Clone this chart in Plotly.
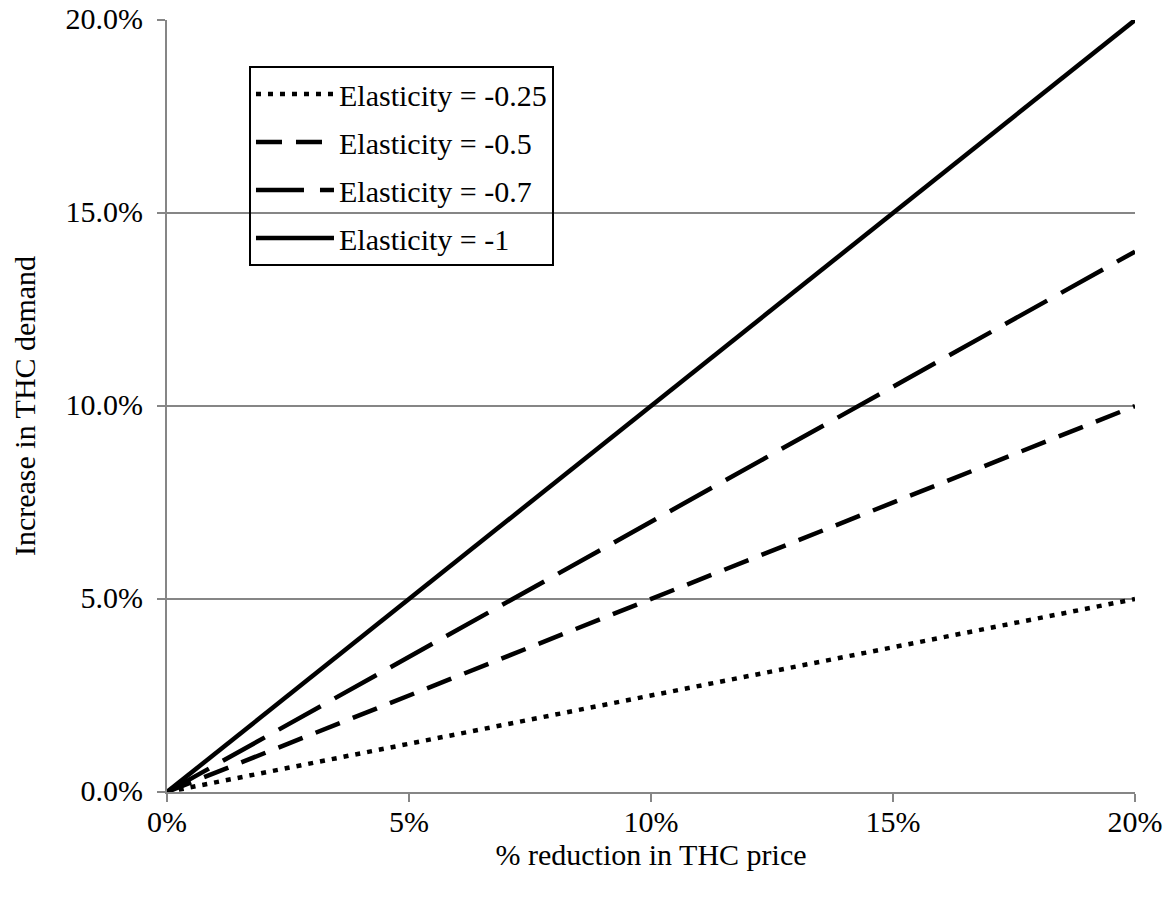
import plotly.graph_objects as go

# Data
price_reduction = [0.0, 0.20]
series_names = ["Elasticity = -0.25", "Elasticity = -0.5", "Elasticity = -0.7", "Elasticity = -1"]
series_values = [
    [0.0, 0.05],
    [0.0, 0.10],
    [0.0, 0.14],
    [0.0, 0.20],
]
dashes = ["5px,7px", "26px,14px", "48px,16px", "solid"]

x_ticks = [0, 0.05, 0.10, 0.15, 0.20]
y_ticks = [0, 0.05, 0.10, 0.15, 0.20]

FONT = "Liberation Serif"
GRID = "#868686"
FS = 30

fig = go.Figure()
for i, (name, vals) in enumerate(zip(series_names, series_values)):
    fig.add_trace(go.Scatter(
        x=price_reduction, y=vals, mode="lines", name=name,
        legendgroup=f"g{i}",
        line=dict(color="black", width=4.5, dash=dashes[i]),
    ))

fig.update_layout(
    width=1171, height=909,
    margin=dict(l=159, r=44, t=12, b=125),
    paper_bgcolor="white", plot_bgcolor="white",
    font=dict(family=FONT, size=FS, color="black"),
    showlegend=True,
    legend=dict(
        x=0.0847, y=0.9404, xanchor="left", yanchor="top",
        bgcolor="rgba(0,0,0,0)", bordercolor="black", borderwidth=2,
        font=dict(family=FONT, size=FS, color="black"),
        itemwidth=78, tracegroupgap=6,
    ),
    xaxis=dict(
        range=[0, 0.20], tickvals=x_ticks, tickformat=".0%",
        showgrid=False, zeroline=False, automargin=False,
        showline=True, linecolor=GRID, linewidth=2,
        ticks="outside", ticklen=8, tickwidth=2, tickcolor=GRID,
        ticklabelstandoff=-6, ticklabeloverflow="allow",
        title=dict(text="% reduction in THC price", font=dict(family=FONT, size=FS), standoff=6),
    ),
    yaxis=dict(
        range=[0, 0.20], tickvals=y_ticks, tickformat=".1%",
        showgrid=True, gridcolor=GRID, gridwidth=1.5, zeroline=False, automargin=False,
        showline=True, linecolor=GRID, linewidth=2,
        ticks="outside", ticklen=8, tickwidth=2, tickcolor=GRID,
        ticklabelstandoff=8, ticklabeloverflow="allow", ticklabelshift=-2,
        title=dict(text="Increase in THC demand", font=dict(family=FONT, size=FS), standoff=32),
    ),
)

fig.write_html("out.html")
